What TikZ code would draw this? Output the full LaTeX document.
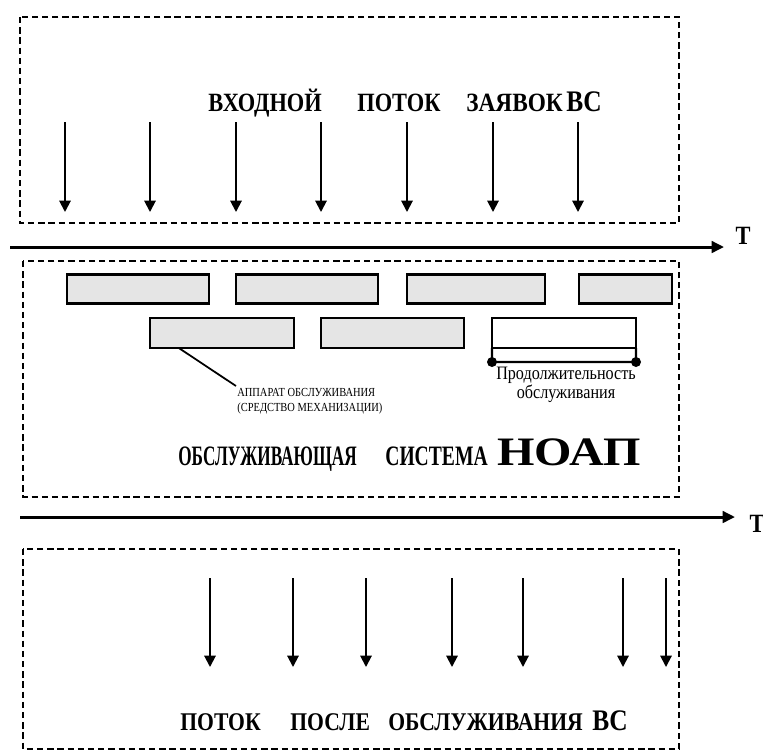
\documentclass[tikz,border=0pt]{standalone}
\usepackage{fontspec}
\setmainfont{Liberation Serif}[FakeStretch=0.85]
\usepackage{tikz}
\usetikzlibrary{arrows.meta, positioning, calc}

\begin{document}
\begin{tikzpicture}[
    x=0.02cm, y=-0.02cm,
    zone/.style={draw=black, dashed, dash pattern=on 3.6pt off 2.2pt, line width=1.1pt},
    device/.style={rectangle, draw=black, fill=black!10, line width=1.4pt, inner sep=0pt, outer sep=0pt, minimum height=0.58cm},
    flow/.style={-{Triangle[length=6.5pt, width=6.5pt]}, line width=1.1pt},
    axis/.style={-{Triangle[length=7pt, width=6.5pt]}, line width=1.7pt},
    word/.style={font=\bfseries\fontsize{15pt}{17pt}\selectfont, anchor=base west, inner sep=0pt},
    note/.style={font=\fontsize{7pt}{8pt}\selectfont, anchor=base west, inner sep=0pt, align=left}
]
    \useasboundingbox (0,0) rectangle (763,751);

    % three zones
    \draw[zone] (20,17) rectangle (679,223);
    \draw[zone] (23,261) rectangle (679,497);
    \draw[zone] (23,549) rectangle (679,749);

    % input stream
    \node[word] (inw1) at (208,111) {ВХОДНОЙ};
    \node[word] (inw2) at (357,111) {ПОТОК};
    \node[word] (inw3) at (466,111) {\scalebox{1.04}[1]{ЗАЯВОК}};
    \node[word, font=\bfseries\fontsize{17pt}{19pt}\selectfont] (inw4) at (566,111) {ВС};
    \foreach \i/\xx in {1/65, 2/150, 3/236, 4/321, 5/407, 6/493, 7/578} {
        \coordinate (in\i) at (\xx,122);
        \coordinate (inE\i) at (\xx,212);
        \draw[flow] (in\i) -- (inE\i);
    }

    % time axes
    \coordinate (t1a) at (10,247);
    \coordinate (t1b) at (724,247);
    \draw[axis] (t1a) -- (t1b);
    \node[font=\bfseries\fontsize{15pt}{17pt}\selectfont] (t1) at (743,236) {Т};
    \coordinate (t2a) at (20,517);
    \coordinate (t2b) at (735,517);
    \draw[axis] (t2a) -- (t2b);
    \node[font=\bfseries\fontsize{15pt}{17pt}\selectfont] (t2) at (757,524) {Т};

    % serving devices
    \node[device, minimum width=2.84cm] (d1) at (138,289) {};
    \node[device, minimum width=2.84cm] (d2) at (307,289) {};
    \node[device, minimum width=2.76cm] (d3) at (476,289) {};
    \node[device, minimum width=1.86cm] (d4) at (625.5,289) {};
    \node[device, minimum width=2.88cm, minimum height=0.6cm] (d5) at (222,333) {};
    \node[device, minimum width=2.86cm, minimum height=0.6cm] (d6) at (392.5,333) {};
    \node[device, fill=white, minimum width=2.88cm, minimum height=0.6cm] (d7) at (564,333) {};

    % service time bracket
    \coordinate (b1) at (492,362);
    \coordinate (b2) at (636,362);
    \draw[line width=1.2pt] (d7.south west) -- (b1) -- (b2) -- (d7.south east);
    \fill (b1) circle (0.1cm);
    \fill (b2) circle (0.1cm);
    \node[font=\fontsize{10.8pt}{10.5pt}\selectfont, align=center, inner sep=0pt] (dur) at (566,385) {Продолжительность\\обслуживания};

    % device label
    \coordinate (lead) at (236,386);
    \draw[line width=1pt] ($(d5.south west)!0.2!(d5.south east)$) -- (lead);
    \node[note] (devlbl) at (237,411) {АППАРАТ ОБСЛУЖИВАНИЯ\\(СРЕДСТВО МЕХАНИЗАЦИИ)};

    \node[word, font=\bfseries\fontsize{16pt}{18pt}\selectfont] (sysw1) at (178,465) {\scalebox{0.72}[1]{ОБСЛУЖИВАЮЩАЯ}};
    \node[word, font=\bfseries\fontsize{16pt}{18pt}\selectfont] (sysw2) at (385,465) {\scalebox{0.82}[1]{СИСТЕМА}};
    \node[word, font=\bfseries\fontsize{23pt}{25pt}\selectfont] (sysw3) at (497,465) {\scalebox{1.4}[1]{НОАП}};

    % output stream
    \foreach \i/\xx in {1/210, 2/293, 3/366, 4/452, 5/523, 6/623, 7/666} {
        \coordinate (out\i) at (\xx,578);
        \coordinate (outE\i) at (\xx,667);
        \draw[flow] (out\i) -- (outE\i);
    }
    \node[word, font=\bfseries\fontsize{14.5pt}{16pt}\selectfont] (outw1) at (180,730) {ПОТОК};
    \node[word, font=\bfseries\fontsize{14.5pt}{16pt}\selectfont] (outw2) at (290,730) {ПОСЛЕ};
    \node[word, font=\bfseries\fontsize{14.5pt}{16pt}\selectfont] (outw3) at (388,730) {ОБСЛУЖИВАНИЯ};
    \node[word, font=\bfseries\fontsize{17pt}{19pt}\selectfont] (outw4) at (592,730) {ВС};
\end{tikzpicture}
\end{document}
